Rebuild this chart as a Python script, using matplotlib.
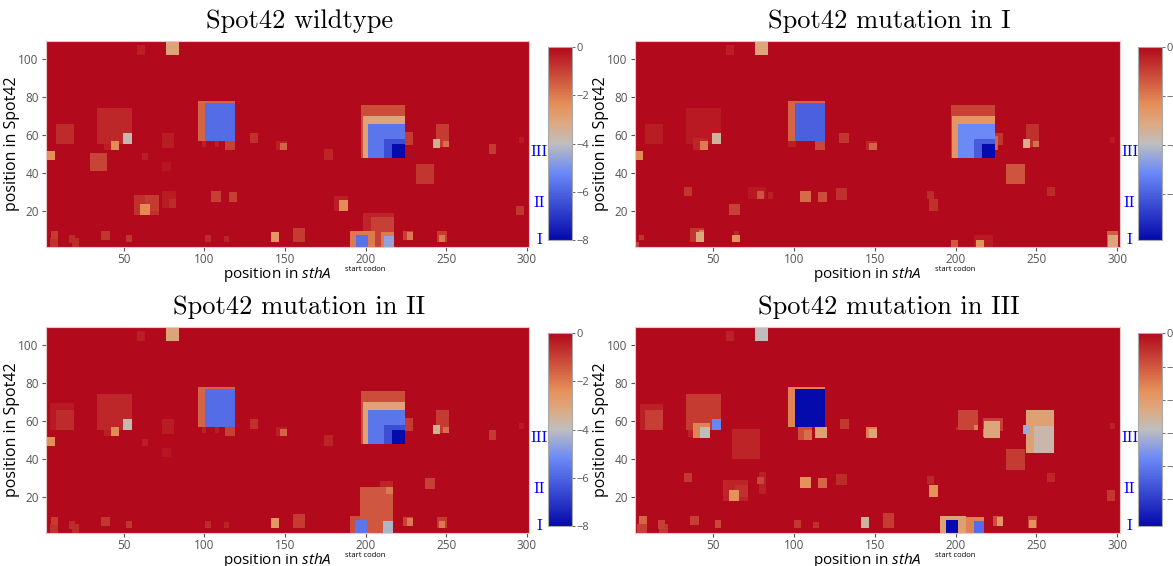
import numpy as np
import matplotlib
matplotlib.use('Agg')
import matplotlib.pyplot as plt
from matplotlib.colors import LinearSegmentedColormap
from matplotlib.transforms import blended_transform_factory

plt.rcParams['font.family'] = ['Open Sans', 'DejaVu Sans']
plt.rcParams['mathtext.fontset'] = 'custom'
plt.rcParams['mathtext.rm'] = 'Open Sans'
plt.rcParams['mathtext.it'] = 'Open Sans:italic'

# ---- data: (x0, x1, y0, y1, energy) regions of the interaction maps ----
titles = ['Spot42 wildtype', 'Spot42 mutation in I',
          'Spot42 mutation in II', 'Spot42 mutation in III']
zmins = [-8.0, -7.9, -8.0, -5.8]
cbar_ticks = [[0, -2, -4, -6, -8], [0, -2, -4, -6],
              [0, -2, -4, -6, -8], [0, -1, -2, -3, -4, -5]]
region_names = ['I', 'II', 'III']
region_pos = [4.4, 24.0, 51.1]

# upper part shared by wildtype and mutation in II
shared_upper = [
    (75.8, 83.9, 101.4, 109.5, -3.0), (58.1, 62.6, 101.4, 106.7, -0.4),
    (95.7, 118.8, 56.7, 77.6, -1.6), (100.0, 118.8, 56.7, 76.4, -5.8),
    (33.1, 54.8, 54.8, 73.6, -0.55), (49.0, 54.8, 54.8, 60.6, -3.8),
    (37.6, 46.7, 51.7, 54.8, -0.4), (41.8, 46.7, 51.7, 56.7, -2.3),
    (7.9, 18.8, 54.8, 65.5, -0.6), (1.9, 7.1, 46.6, 51.3, -2.4),
    (60.8, 64.9, 46.6, 50.4, -0.4), (73.2, 81.0, 52.7, 60.6, -0.35),
    (73.2, 79.0, 40.6, 45.7, -0.25), (97.9, 100.8, 53.6, 56.7, -0.4),
    (106.2, 108.7, 53.6, 56.7, -0.35), (112.6, 118.8, 51.7, 56.7, -1.0),
    (127.9, 133.1, 55.7, 60.6, -0.7), (143.8, 151.0, 51.7, 56.7, -0.4),
    (146.5, 151.0, 51.7, 55.7, -1.6),
    (196.7, 223.9, 47.5, 75.5, -1.2), (197.7, 223.9, 47.5, 69.5, -3.0),
    (201.0, 223.9, 47.5, 65.5, -5.6), (210.7, 223.9, 47.5, 57.4, -6.5),
    (215.9, 223.9, 47.5, 55.1, -8.0), (223.9, 228.7, 54.5, 61.3, -0.9),
    (174.0, 179.7, 46.6, 52.5, -0.5), (243.0, 251.0, 53.6, 65.5, -0.9),
    (241.1, 245.6, 52.7, 57.4, -3.4), (247.3, 251.0, 53.6, 56.6, -1.8),
    (275.8, 280.7, 49.6, 54.8, -0.9), (294.8, 297.7, 55.7, 58.9, -0.35),
]
shared_lower = [
    (4.6, 9.1, 5.4, 9.6, -0.9), (4.0, 9.1, 1.0, 5.8, -0.7),
    (16.0, 19.5, 3.2, 7.5, -0.6), (17.4, 22.0, 1.0, 5.8, -0.6),
    (35.6, 41.1, 4.9, 9.6, -0.8), (50.9, 55.0, 3.7, 7.5, -0.8),
    (100.0, 103.7, 3.7, 7.5, -0.6), (111.8, 114.9, 3.7, 6.6, -0.5),
    (140.9, 145.9, 3.7, 8.9, -2.6), (154.7, 161.8, 3.7, 10.7, -0.9),
    (222.5, 228.7, 4.9, 9.6, -1.0), (225.0, 228.7, 4.9, 8.9, -2.0),
    (243.8, 250.0, 3.7, 9.6, -0.9), (244.8, 248.9, 3.7, 7.5, -2.0),
]
wildtype_only = [
    (28.8, 39.1, 40.6, 50.4, -1.05), (56.0, 71.5, 17.7, 28.2, -0.7),
    (62.8, 71.5, 19.8, 28.2, -0.9), (59.7, 65.9, 17.7, 23.6, -2.3),
    (73.2, 81.8, 21.5, 30.3, -0.35), (77.7, 81.8, 21.5, 25.9, -0.6),
    (103.7, 109.9, 24.5, 30.3, -1.0), (114.9, 119.8, 24.5, 30.0, -1.0),
    (230.7, 241.7, 33.8, 44.7, -0.8), (180.1, 188.4, 19.8, 27.7, -0.4),
    (183.2, 188.4, 19.8, 25.4, -2.3), (292.7, 297.7, 17.7, 22.4, -0.8),
    (197.7, 216.9, 1.0, 18.9, -0.5), (203.1, 216.9, 1.0, 16.8, -1.0),
    (190.1, 205.5, 1.0, 9.6, -2.0), (193.8, 200.8, 1.0, 7.5, -5.7),
    (209.1, 216.9, 1.0, 8.9, -2.0), (210.7, 216.9, 1.0, 6.8, -4.6),
]
mut2_only = [
    (4.0, 18.8, 54.8, 69.0, -0.3), (236.2, 242.6, 24.0, 30.0, -1.0),
    (196.2, 216.3, 1.0, 25.1, -1.4), (208.6, 216.3, 25.1, 28.3, -0.5),
    (212.0, 216.3, 21.6, 25.1, -2.0), (190.0, 200.4, 1.0, 10.0, -1.2),
    (193.2, 200.4, 1.0, 8.0, -5.6), (210.4, 216.3, 1.0, 7.4, -4.2),
]
mut1 = [
    (75.8, 83.9, 101.4, 109.5, -3.0), (57.9, 62.4, 101.4, 106.7, -0.4),
    (95.7, 118.8, 56.7, 77.6, -1.6), (100.0, 118.8, 56.7, 76.4, -6.0),
    (33.1, 54.3, 54.8, 73.6, -0.3), (49.0, 54.3, 54.8, 60.6, -3.5),
    (37.6, 46.5, 51.7, 58.3, -0.5), (41.7, 46.5, 51.7, 56.7, -2.0),
    (7.9, 18.6, 54.8, 65.5, -0.35), (1.7, 6.6, 46.6, 51.3, -2.3),
    (95.7, 100.8, 53.6, 56.7, -0.4), (112.6, 118.8, 51.7, 56.7, -1.1),
    (127.7, 133.3, 55.7, 60.6, -0.8), (144.0, 150.8, 51.7, 56.7, -0.5),
    (146.0, 150.8, 51.7, 55.7, -1.6),
    (32.0, 36.6, 27.7, 32.6, -0.8), (59.5, 66.1, 17.7, 23.8, -1.0),
    (71.3, 82.6, 26.4, 32.6, -0.25), (76.9, 81.0, 26.4, 30.6, -1.3),
    (83.7, 86.4, 26.4, 30.0, -0.4), (103.3, 109.9, 24.5, 30.6, -1.7),
    (114.7, 119.8, 24.5, 29.9, -1.2), (125.6, 132.2, 25.6, 31.7, -0.7),
    (35.5, 44.4, 3.7, 10.7, -0.8), (39.3, 43.8, 3.7, 8.9, -3.1),
    (41.0, 44.4, 6.5, 10.0, -2.0), (62.6, 65.7, 7.5, 9.6, -0.5),
    (61.6, 66.1, 3.7, 7.5, -2.4), (3.7, 7.2, 4.9, 7.5, -0.8),
    (1.7, 4.1, 1.0, 3.7, -1.0),
    (196.5, 223.8, 47.5, 75.5, -1.0), (197.3, 223.8, 47.5, 69.5, -2.5),
    (200.7, 223.8, 47.5, 65.5, -5.1), (210.8, 223.8, 47.5, 57.4, -6.1),
    (215.7, 223.8, 47.5, 55.1, -7.9), (223.8, 228.5, 54.5, 60.6, -0.8),
    (223.8, 225.8, 51.7, 59.2, -1.6),
    (243.0, 250.7, 53.6, 65.5, -0.7), (240.9, 245.5, 52.7, 57.4, -3.3),
    (247.0, 250.7, 53.6, 56.6, -1.8), (230.6, 242.0, 33.8, 44.7, -1.3),
    (255.6, 260.6, 27.7, 32.4, -0.6), (182.0, 185.8, 26.4, 30.3, -0.6),
    (182.7, 188.5, 19.8, 25.9, -0.7), (294.7, 297.8, 55.7, 58.9, -0.3),
    (211.0, 222.3, 1.0, 7.5, -0.3), (196.5, 200.7, 1.0, 4.9, -1.4),
    (212.2, 216.8, 1.0, 4.9, -2.4), (293.0, 299.8, 1.0, 9.6, -1.5),
    (293.6, 299.8, 1.0, 7.5, -3.0),
]
mut3 = [
    (75.8, 83.9, 101.4, 109.5, -2.9), (57.9, 62.4, 101.4, 106.7, -0.3),
    (95.7, 118.8, 56.7, 77.6, -1.55), (100.0, 118.8, 56.7, 76.4, -5.8),
    (33.1, 54.3, 54.8, 73.6, -0.65), (49.0, 54.3, 54.8, 60.6, -3.8),
    (37.6, 47.9, 51.0, 58.7, -1.55), (41.9, 47.9, 51.0, 56.7, -2.85),
    (34.0, 37.6, 51.5, 55.0, -0.3),
    (4.5, 18.6, 54.8, 68.5, -0.3), (7.9, 18.6, 54.8, 65.5, -0.7),
    (61.6, 78.5, 40.0, 55.7, -0.35), (101.9, 111.0, 49.9, 56.7, -0.9),
    (105.8, 111.0, 49.9, 54.8, -1.3), (112.6, 119.8, 51.0, 56.7, -2.1),
    (128.1, 133.3, 55.7, 60.6, -0.6), (143.8, 150.8, 51.0, 56.7, -1.5),
    (146.0, 150.8, 51.0, 55.7, -2.2),
    (32.0, 36.6, 27.7, 32.6, -0.6), (55.8, 71.3, 18.0, 28.6, -0.35),
    (63.0, 71.3, 19.8, 25.9, -0.5), (59.5, 65.7, 18.0, 23.8, -1.75),
    (76.9, 81.0, 26.8, 30.6, -0.8), (78.0, 82.2, 21.5, 32.9, -0.3),
    (103.3, 109.9, 24.5, 30.6, -1.75), (114.7, 119.8, 24.5, 29.9, -1.2),
    (125.6, 132.2, 26.0, 32.0, -0.45),
    (4.1, 8.7, 5.8, 10.1, -1.2), (2.5, 8.7, 1.0, 5.8, -0.7),
    (15.5, 20.2, 3.2, 7.9, -0.7), (16.5, 21.7, 1.0, 5.8, -0.6),
    (35.5, 40.9, 5.1, 10.1, -0.7), (50.6, 54.8, 3.7, 7.9, -0.8),
    (99.8, 103.7, 3.7, 7.9, -0.6), (111.6, 115.1, 3.7, 6.9, -0.5),
    (140.9, 146.1, 3.7, 9.3, -2.6),
    (200.7, 213.5, 54.8, 65.7, -0.75), (210.6, 213.5, 54.8, 57.8, -1.5),
    (199.5, 201.5, 54.8, 56.7, -0.4),
    (216.1, 228.5, 54.5, 61.5, -0.7), (216.8, 226.9, 51.0, 59.7, -2.2),
    (216.1, 218.2, 51.3, 55.4, -1.5),
    (243.0, 260.0, 42.9, 65.7, -2.1), (247.6, 260.0, 42.9, 56.9, -2.7),
    (240.7, 245.5, 52.7, 57.8, -3.2), (230.6, 242.0, 34.2, 45.0, -0.65),
    (255.6, 260.6, 27.7, 32.6, -0.4), (182.0, 185.8, 26.8, 31.0, -0.4),
    (182.7, 188.5, 19.8, 26.0, -1.75), (293.0, 297.8, 17.7, 23.3, -0.6),
    (294.7, 297.8, 55.7, 58.9, -0.3), (154.4, 161.4, 3.7, 11.4, -0.65),
    (189.7, 205.8, 1.0, 10.1, -2.1), (193.4, 200.7, 1.0, 7.9, -5.8),
    (205.8, 216.8, 1.0, 9.3, -1.55), (206.8, 210.8, 1.0, 8.4, -1.0),
    (210.6, 216.8, 1.0, 7.2, -4.2),
    (222.3, 228.5, 4.9, 10.1, -0.9), (224.8, 228.5, 4.9, 9.3, -1.9),
    (244.0, 249.8, 3.7, 10.1, -0.8), (244.7, 248.8, 3.7, 7.9, -1.8),
]
panel_regions = [shared_upper + shared_lower + wildtype_only,
                 mut1,
                 shared_upper + shared_lower + mut2_only,
                 mut3]

# plotly style RdBu scale (low = blue, high = red)
cmap = LinearSegmentedColormap.from_list('rdbu_plotly', [
    (0.0, (5/255, 10/255, 172/255)),
    (0.35, (106/255, 137/255, 247/255)),
    (0.5, (190/255, 190/255, 190/255)),
    (0.6, (220/255, 170/255, 132/255)),
    (0.7, (230/255, 145/255, 90/255)),
    (1.0, (178/255, 10/255, 28/255)),
])

x_extent = (1.5, 301.5)
y_extent = (1.0, 109.5)
step = 0.1
xc = np.arange(x_extent[0] + step / 2, x_extent[1], step)
yc = np.arange(y_extent[0] + step / 2, y_extent[1], step)
X, Y = np.meshgrid(xc, yc)


def build_grid(regions):
    z = np.zeros_like(X)
    for x0, x1, y0, y1, v in regions:
        m = (X >= x0) & (X < x1) & (Y >= y0) & (Y < y1)
        z[m] = np.minimum(z[m], v)
    return z


W, H = 1173, 566
fig = plt.figure(figsize=(W / 100, H / 100), dpi=100)

# pixel layout: axes (left, right, top, bottom), colorbar (left, right, top, bottom)
ax_px = [(45.7, 529.3, 40.7, 247.0), (634.7, 1119.7, 40.7, 247.0),
         (45.7, 529.3, 326.7, 533.0), (634.7, 1119.7, 326.7, 533.0)]
cb_px = [(548.3, 572.3, 47.3, 240.0), (1138.3, 1162.3, 47.3, 240.0),
         (548.3, 572.3, 333.3, 526.0), (1138.3, 1162.3, 333.3, 526.0)]


def to_rect(l, r, t, b):
    return [l / W, 1 - b / H, (r - l) / W, (b - t) / H]


for i in range(4):
    ax = fig.add_axes(to_rect(*ax_px[i]))
    z = build_grid(panel_regions[i])
    im = ax.imshow(z, origin='lower', aspect='auto', interpolation='nearest',
                   extent=[x_extent[0], x_extent[1], y_extent[0], y_extent[1]],
                   cmap=cmap, vmin=zmins[i], vmax=0)
    ax.set_xlim(*x_extent)
    ax.set_ylim(*y_extent)
    ax.set_xticks([50, 100, 150, 200, 250, 300])
    ax.set_yticks([20, 40, 60, 80, 100])
    ax.tick_params(labelsize=8.5, colors='#555555', length=3, width=0.8, pad=2)
    ax.tick_params(axis='x', pad=1)
    for s in ax.spines.values():
        s.set_color('#e6c8c8')
        s.set_linewidth(0.8)
    ax.set_xlabel(r'position in $\mathit{sthA}$', fontsize=11, labelpad=-1)
    ax.xaxis.set_label_coords(0.48, -0.085)
    ax.xaxis.label.set_va('top')
    ax.set_ylabel('position in Spot42', fontsize=11.5, labelpad=-1)

    trans = blended_transform_factory(ax.transData, ax.transAxes)
    ax.text(200, -0.108, 'start codon', transform=trans, fontsize=5.5,
            ha='center', va='center')
    for name, yy in zip(region_names, region_pos):
        ax.text(307.7, yy, name, fontsize=11.5, color='blue', family='cmr10',
                ha='center', va='center', clip_on=False)

    l, r, t, b = ax_px[i]
    fig.text((l + r) / 2 / W + 12 / W, 1 - (t - 20) / H, titles[i],
             family='cmr10', fontsize=19, ha='center', va='center')

    cax = fig.add_axes(to_rect(*cb_px[i]))
    cb = fig.colorbar(im, cax=cax, ticks=cbar_ticks[i])
    cb.outline.set_edgecolor('#aaaaaa')
    cb.outline.set_linewidth(0.8)
    cax.tick_params(labelsize=8, colors='#555555', length=2, width=0.6, pad=1)

fig.savefig('out.png', dpi=100)
